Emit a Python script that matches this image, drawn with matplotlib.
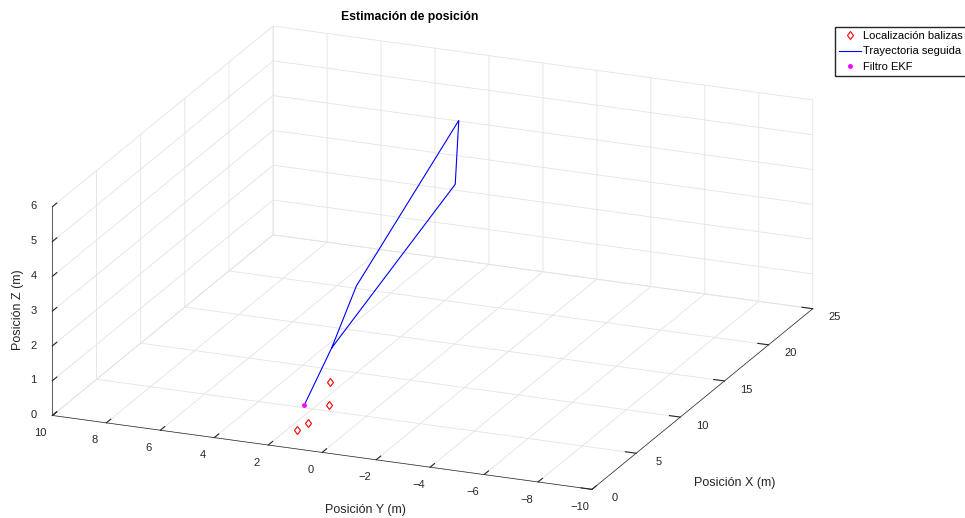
import matplotlib

matplotlib.use("Agg")
import matplotlib.pyplot as plt

plt.rcParams["font.family"] = ["Liberation Sans", "DejaVu Sans"]
plt.rcParams["font.size"] = 8
plt.rcParams["grid.color"] = "#e3e3e3"
plt.rcParams["grid.linewidth"] = 0.6

# beacon positions (m)
beacon_x = [8.5, 5.7, 3.3, 2.2]
beacon_y = [2.5, 1.6, 1.6, 1.65]
beacon_z = [0.0, 0.0, 0.0, 0.0]

# followed trajectory (m)
traj_x = [5.3, 8.4, 11.2, 22.8, 22.4, 8.4]
traj_y = [2.4, 2.4, 2.4, 2.4, 2.4, 2.4]
traj_z = [0.0, 1.0, 2.2, 4.55, 2.8, 1.0]

# EKF estimate
ekf_x = [5.3]
ekf_y = [2.4]
ekf_z = [0.0]

x_ticks = [0, 5, 10, 15, 20, 25]
y_ticks = list(range(-10, 11, 2))
z_ticks = list(range(0, 7))

DARK = "#262626"

fig = plt.figure(figsize=(9.65, 5.18), dpi=100)
ax = fig.add_axes([0.011, -0.011, 0.86, 1.0], projection="3d")
ax.set_proj_type("ortho")
ax.view_init(elev=19.56, azim=-157.75)
ax.set_box_aspect((1, 1, 0.38), zoom=1.6)

ax.plot(beacon_x, beacon_y, beacon_z, linestyle="none", marker="d", ms=4.5,
        mfc="none", mec="red", mew=0.8, label="Localización balizas")
ax.plot(traj_x, traj_y, traj_z, color="blue", lw=0.8, label="Trayectoria seguida")
ax.plot(ekf_x, ekf_y, ekf_z, linestyle="none", marker="o", ms=2.5,
        color="magenta", label="Filtro EKF")

ax.set_xlim(0, 25)
ax.set_ylim(-10, 10)
ax.set_zlim(0, 6)
ax.set_xticks(x_ticks)
ax.set_yticks(y_ticks)
ax.set_zticks(z_ticks)

# pads + baseline anchoring nudge the tick labels to where MATLAB puts them
for axis, pad in ((ax.xaxis, 0.0), (ax.yaxis, 2.3), (ax.zaxis, -3.2)):
    axis.set_pane_color((1, 1, 1, 0))
    axis.pane.set_edgecolor("#e3e3e3")
    axis.line.set_color(DARK)
    axis.line.set_linewidth(0.5)
    axis._axinfo["tick"]["inward_factor"] = 0.0
    axis._axinfo["tick"]["outward_factor"] = 0.25
    axis._axinfo["tick"]["color"] = DARK
    axis.set_tick_params(colors=DARK, labelsize=8, pad=pad)
    for tick in axis.get_major_ticks():
        tick.label1.set_verticalalignment("baseline")

# axis titles placed like the MATLAB figure
fig.text(735 / 965, 1 - 483 / 518, "Posición X (m)", ha="center", va="center",
         fontsize=9, color=DARK)
fig.text(365 / 965, 1 - 510 / 518, "Posición Y (m)", ha="center", va="center",
         fontsize=9, color=DARK)
fig.text(18 / 965, 1 - 310 / 518, "Posición Z (m)", ha="center", va="center",
         rotation=90, fontsize=9, color=DARK)
fig.suptitle("Estimación de posición", x=410 / 965, y=1 - 17 / 518, va="center",
             fontsize=8.8, fontweight="bold", color="black")

fig.legend(loc="upper left", bbox_to_anchor=(835 / 965, 1 - 27 / 518), fontsize=8,
           frameon=True, fancybox=False, edgecolor=DARK, framealpha=1,
           borderaxespad=0, borderpad=0.35, handlelength=2.0, handletextpad=0.2,
           labelspacing=0.5)

fig.savefig("out.png", dpi=100)
